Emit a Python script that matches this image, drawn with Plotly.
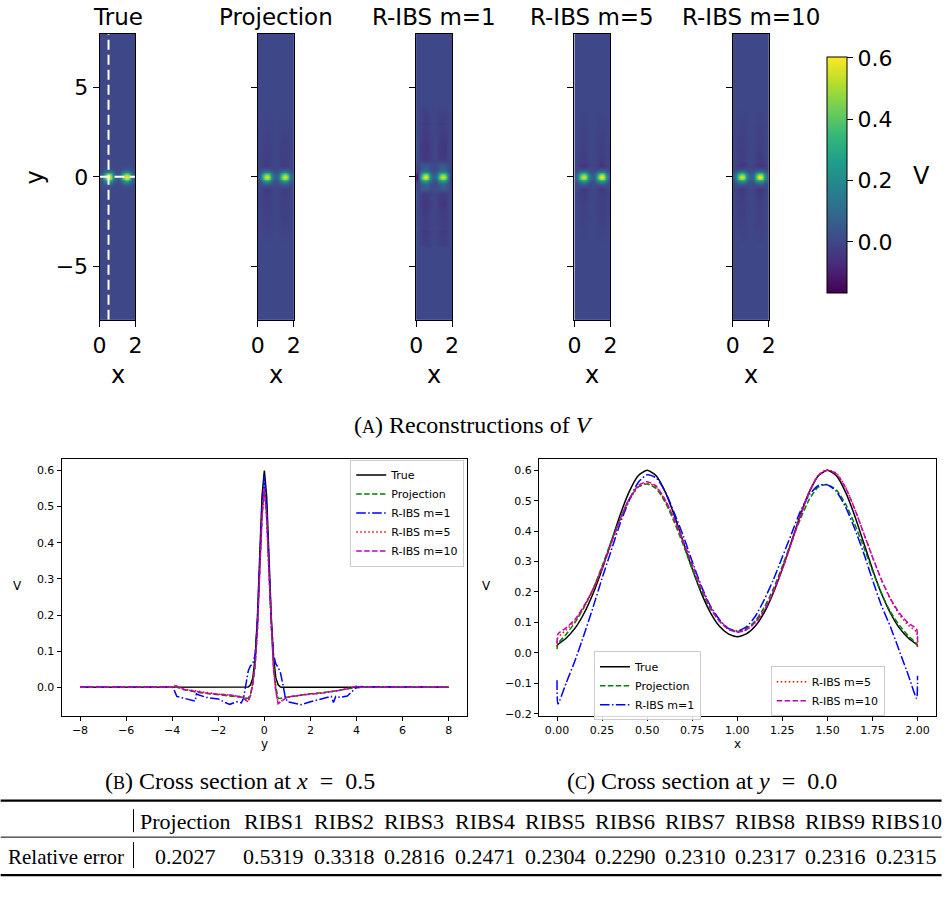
import numpy as np
import plotly.graph_objects as go
from plotly.colors import sample_colorscale

W, H = 948, 903

# ---------------- data ----------------
methods = ["True", "Projection", "R-IBS m=1", "R-IBS m=5", "R-IBS m=10"]
x_cut = 0.5   # cross section position (B)
y_cut = 0.0   # cross section position (C)

# cross section at y = 0.0 (x from 0 to 2)
xs = [0.0, 0.005, 0.05, 0.1, 0.15, 0.2, 0.25, 0.3, 0.35, 0.4, 0.45, 0.5, 0.55, 0.6, 0.65,
      0.7, 0.75, 0.8, 0.85, 0.9, 0.95, 1.0, 1.05, 1.1, 1.15, 1.2, 1.25, 1.3, 1.35, 1.4,
      1.45, 1.5, 1.55, 1.6, 1.65, 1.7, 1.75, 1.8, 1.85, 1.9, 1.95, 1.995, 2.0]
cx_true = [0.026, 0.028, 0.048, 0.081, 0.130, 0.195, 0.275, 0.364, 0.453, 0.529, 0.582, 0.600,
           0.582, 0.529, 0.453, 0.364, 0.276, 0.197, 0.133, 0.088, 0.062, 0.053, 0.062, 0.088,
           0.133, 0.197, 0.276, 0.364, 0.453, 0.529, 0.582, 0.600, 0.582, 0.529, 0.453, 0.364,
           0.275, 0.195, 0.130, 0.081, 0.048, 0.028, 0.026]
cx_proj = [0.012, 0.03, 0.06, 0.10, 0.15, 0.21, 0.285, 0.365, 0.44, 0.505, 0.545, 0.555,
           0.54, 0.495, 0.43, 0.355, 0.275, 0.205, 0.145, 0.105, 0.08, 0.07, 0.08, 0.105,
           0.15, 0.21, 0.285, 0.365, 0.44, 0.505, 0.545, 0.553, 0.535, 0.49, 0.425, 0.35,
           0.27, 0.195, 0.135, 0.09, 0.055, 0.03, 0.02]
cx_m1 = [-0.09, -0.168, -0.10, -0.025, 0.06, 0.15, 0.245, 0.335, 0.425, 0.50, 0.56, 0.585,
         0.575, 0.53, 0.46, 0.385, 0.30, 0.22, 0.155, 0.11, 0.08, 0.072, 0.085, 0.12,
         0.175, 0.24, 0.315, 0.39, 0.465, 0.52, 0.55, 0.552, 0.53, 0.48, 0.41, 0.33,
         0.24, 0.155, 0.085, 0.005, -0.075, -0.15, -0.075]
cx_m5 = [0.02, 0.05, 0.075, 0.105, 0.15, 0.205, 0.275, 0.355, 0.435, 0.50, 0.545, 0.558,
         0.545, 0.50, 0.44, 0.365, 0.29, 0.215, 0.15, 0.105, 0.078, 0.068, 0.075, 0.10,
         0.14, 0.20, 0.275, 0.36, 0.45, 0.53, 0.585, 0.602, 0.59, 0.545, 0.475, 0.395,
         0.315, 0.24, 0.175, 0.125, 0.09, 0.068, 0.02]
cx_m10 = [0.03, 0.062, 0.082, 0.11, 0.155, 0.21, 0.28, 0.36, 0.44, 0.505, 0.55, 0.562,
          0.548, 0.503, 0.44, 0.367, 0.29, 0.215, 0.15, 0.105, 0.078, 0.068, 0.076, 0.10,
          0.14, 0.20, 0.276, 0.36, 0.45, 0.53, 0.583, 0.60, 0.588, 0.543, 0.475, 0.395,
          0.315, 0.24, 0.178, 0.13, 0.097, 0.078, 0.03]

# cross section at x = 0.5 (y from -8 to 8)
ys = [-8.0, -4.2, -4.0, -3.9, -3.8, -3.5, -3.2, -3.0, -2.95, -2.9,
      -2.5, -2.0, -1.7, -1.5, -1.2, -1.0, -0.9, -0.8, -0.7, -0.6,
      -0.5, -0.4, -0.3, -0.2, -0.1, 0.0, 0.1, 0.2, 0.3, 0.4,
      0.5, 0.6, 0.7, 0.8, 0.9, 1.0, 1.3, 1.6, 2.0, 2.5,
      2.9, 3.0, 3.1, 3.3, 3.6, 3.8, 4.0, 4.2, 8.0]
cy_true = [0, 0, 0, 0, 0, 0, 0, 0, 0, 0,
           0, 0, 0, 0, 0, 0, 0, 0, 0.001, 0.007,
           0.026, 0.081, 0.195, 0.364, 0.529, 0.600, 0.529, 0.364, 0.195, 0.081,
           0.026, 0.007, 0.001, 0, 0, 0, 0, 0, 0, 0,
           0, 0, 0, 0, 0, 0, 0, 0, 0]
cy_proj = [0, 0, 0, 0.002, 0.0, -0.006, -0.01, -0.013, -0.013, -0.014,
           -0.017, -0.02, -0.022, -0.023, -0.025, -0.027, -0.028, -0.03, -0.03, -0.018,
           0.012, 0.065, 0.165, 0.33, 0.48, 0.555, 0.48, 0.33, 0.165, 0.06,
           0.0, -0.03, -0.031, -0.029, -0.028, -0.027, -0.024, -0.021, -0.018, -0.015,
           -0.012, -0.011, -0.01, -0.008, -0.004, -0.002, 0.0, 0, 0]
cy_m1 = [0, 0, 0.0, -0.01, -0.025, -0.03, -0.035, -0.038, -0.018, -0.02,
         -0.028, -0.032, -0.042, -0.047, -0.04, -0.043, -0.03, 0.01, 0.045, 0.06,
         0.065, 0.09, 0.18, 0.34, 0.5, 0.585, 0.5, 0.34, 0.18, 0.09,
         0.065, 0.055, 0.04, 0.01, -0.025, -0.04, -0.045, -0.048, -0.04, -0.032,
         -0.025, -0.042, -0.025, -0.028, -0.024, -0.012, 0.0, 0.002, 0]
cy_m5 = [0, 0, 0.0, 0.004, 0.003, -0.005, -0.008, -0.01, -0.011, -0.012,
         -0.016, -0.019, -0.02, -0.021, -0.024, -0.026, -0.028, -0.035, -0.038, -0.022,
         0.01, 0.06, 0.16, 0.32, 0.47, 0.55, 0.47, 0.32, 0.16, 0.05,
         -0.01, -0.044, -0.04, -0.035, -0.03, -0.028, -0.024, -0.021, -0.018, -0.016,
         -0.012, -0.011, -0.01, -0.008, -0.004, -0.001, 0.003, 0.0, 0]
cy_m10 = [0, 0, 0.0, 0.005, 0.003, -0.006, -0.009, -0.011, -0.012, -0.013,
          -0.016, -0.019, -0.02, -0.021, -0.024, -0.027, -0.03, -0.036, -0.04, -0.023,
          0.01, 0.06, 0.16, 0.32, 0.47, 0.552, 0.47, 0.32, 0.16, 0.05,
          -0.012, -0.045, -0.04, -0.035, -0.03, -0.027, -0.024, -0.021, -0.019, -0.016,
          -0.013, -0.011, -0.01, -0.008, -0.004, -0.001, 0.003, 0.0, 0]

# table
table_cols = ["Projection", "RIBS1", "RIBS2", "RIBS3", "RIBS4", "RIBS5", "RIBS6",
              "RIBS7", "RIBS8", "RIBS9", "RIBS10"]
rel_error = [0.2027, 0.5319, 0.3318, 0.2816, 0.2471, 0.2304, 0.2290, 0.2310, 0.2317,
             0.2316, 0.2315]

cx_all = [cx_true, cx_proj, cx_m1, cx_m5, cx_m10]
cy_all = [cy_true, cy_proj, cy_m1, cy_m5, cy_m10]

# ---------------- styles ----------------
colors = ["black", "#008000", "#0000ff", "#ff0000", "#bf00bf"]
dashes = ["solid", "5.5px,2.4px", "9.6px,2.4px,1.5px,2.4px", "1.5px,2.5px", "5.5px,2.4px"]


def X(px):
    # pixel position in the page -> paper fraction (compensates page scaling)
    return ((px - 6.35) / 0.9864) / W


def Y(py):
    return 1 - (py / 0.9966) / H


fig = go.Figure()
layout = dict(width=W, height=H, margin=dict(l=0, r=0, t=0, b=0), autosize=False,
              paper_bgcolor="white", plot_bgcolor="white",
              font=dict(family="DejaVu Sans", color="black"),
              annotations=[], shapes=[])

# ---------------- heatmaps ----------------
i0 = ys.index(0.0)
fields = []
for cx, cy in zip(cx_all, cy_all):
    Z = np.outer(np.array(cy), np.array(cx)) / cy[i0]
    fields.append(Z)
zmin = float(min(f.min() for f in fields))
zmax = float(max(f.max() for f in fields))
zero_col = sample_colorscale("Viridis", [(0 - zmin) / (zmax - zmin)])[0]

# pad the grid slightly beyond the axes so the image fills the frame
hx = np.concatenate([[-0.05], np.array(xs), [2.05]])
hy = np.concatenate([[-8.5], np.array(ys), [8.5]])

heat_left = [99 + 158.5 * i for i in range(5)]
hw = 36
for i, (name, Z) in enumerate(zip(methods, fields)):
    ax = "" if i == 0 else str(i + 1)
    l = heat_left[i]
    Zp = np.pad(Z, ((1, 1), (1, 1)), mode="edge")
    fig.add_trace(go.Heatmap(x=hx, y=hy, z=Zp.tolist(), coloraxis="coloraxis",
                             zsmooth="best", xaxis="x" + ax, yaxis="y" + ax,
                             hoverinfo="skip", showlegend=False))
    layout["shapes"].append(dict(type="rect", xref="x" + ax, yref="y" + ax, x0=0, x1=2,
                                 y0=-8, y1=8, fillcolor=zero_col, line=dict(width=0),
                                 layer="below"))
    layout["xaxis" + ax] = dict(domain=[X(l), X(l + hw)], range=[0, 2], anchor="y" + ax,
                                tickvals=[0, 2], ticks="outside", ticklen=6, tickwidth=1,
                                tickcolor="black", showline=True, linecolor="black",
                                linewidth=1, mirror=True, showgrid=False, zeroline=False,
                                tickfont=dict(size=22, color="black"))
    layout["yaxis" + ax] = dict(domain=[Y(320), Y(34)], range=[-8, 8], anchor="x" + ax,
                                tickvals=[-5, 0, 5], ticks="outside", ticklen=6, tickwidth=1,
                                tickcolor="black", showline=True, linecolor="black",
                                linewidth=1, mirror=True, showgrid=False, zeroline=False,
                                showticklabels=(i == 0),
                                tickfont=dict(size=22, color="black"))
    layout["annotations"].append(dict(x=X(l + hw / 2), y=Y(17), text=name, showarrow=False,
                                      xref="paper", yref="paper", xanchor="center",
                                      yanchor="middle", font=dict(size=23)))
    layout["annotations"].append(dict(x=X(l + hw / 2), y=Y(375), text="x", showarrow=False,
                                      xref="paper", yref="paper", xanchor="center",
                                      yanchor="middle", font=dict(size=24)))

# dashed cross-section markers on the "True" panel
fig.add_trace(go.Scatter(x=[x_cut, x_cut], y=[-8, 8], mode="lines", xaxis="x", yaxis="y",
                         line=dict(color="white", width=2, dash="10px,5px"),
                         showlegend=False, hoverinfo="skip"))
fig.add_trace(go.Scatter(x=[0, 2], y=[y_cut, y_cut], mode="lines", xaxis="x", yaxis="y",
                         line=dict(color="white", width=2, dash="10px,5px"),
                         showlegend=False, hoverinfo="skip"))

layout["annotations"].append(dict(x=X(34), y=Y(178), text="y", textangle=-90,
                                  showarrow=False, xref="paper", yref="paper",
                                  xanchor="center", yanchor="middle", font=dict(size=24)))
layout["annotations"].append(dict(x=X(922), y=Y(176), text="V", showarrow=False,
                                  xref="paper", yref="paper", xanchor="center",
                                  yanchor="middle", font=dict(size=24)))

layout["coloraxis"] = dict(colorscale="Viridis", cmin=zmin, cmax=zmax,
                           colorbar=dict(x=X(827), xanchor="left", xpad=0, ypad=0,
                                         y=Y(175.5), yanchor="middle", len=237 / H,
                                         lenmode="fraction", thickness=20,
                                         thicknessmode="pixels", outlinewidth=1,
                                         outlinecolor="black", ticks="outside", ticklen=6,
                                         tickcolor="black", tickvals=[0, 0.2, 0.4, 0.6],
                                         tickformat=".1f",
                                         tickfont=dict(size=22, color="black")))

# ---------------- line plots ----------------
for k in range(5):
    fig.add_trace(go.Scatter(x=ys, y=cy_all[k], mode="lines", name=methods[k],
                             xaxis="x6", yaxis="y6", legend="legend3",
                             line=dict(color=colors[k], width=1.5, dash=dashes[k])))
for k in range(5):
    fig.add_trace(go.Scatter(x=xs, y=cx_all[k], mode="lines", name=methods[k],
                             xaxis="x7", yaxis="y7",
                             legend=("legend" if k < 3 else "legend2"),
                             line=dict(color=colors[k], width=1.5, dash=dashes[k],
                                       shape="spline", smoothing=0.6)))

common_ax = dict(ticks="outside", ticklen=4, tickwidth=1, tickcolor="black", showline=True,
                 linecolor="black", linewidth=1, mirror=True, showgrid=False, zeroline=False,
                 tickfont=dict(size=11, color="black"))
layout["xaxis6"] = dict(domain=[X(61), X(467)], anchor="y6", range=[-8.8, 8.8],
                        tickvals=list(range(-8, 9, 2)), **common_ax)
layout["yaxis6"] = dict(domain=[Y(717), Y(459)], anchor="x6", range=[-0.08, 0.633],
                        tickvals=[0, 0.1, 0.2, 0.3, 0.4, 0.5, 0.6], tickformat=".1f",
                        **common_ax)
layout["xaxis7"] = dict(domain=[X(539), X(936)], anchor="y7", range=[-0.1, 2.1],
                        tickvals=[0, 0.25, 0.5, 0.75, 1.0, 1.25, 1.5, 1.75, 2.0],
                        tickformat=".2f", **common_ax)
layout["yaxis7"] = dict(domain=[Y(717), Y(459)], anchor="x7", range=[-0.2085, 0.6385],
                        tickvals=[-0.2, -0.1, 0, 0.1, 0.2, 0.3, 0.4, 0.5, 0.6],
                        tickformat=".1f", **common_ax)

leg_common = dict(bgcolor="rgba(255,255,255,0.85)", bordercolor="#cccccc", borderwidth=1,
                  font=dict(size=11, color="black"), xanchor="left", yanchor="top",
                  tracegroupgap=0, xref="paper", yref="paper")
layout["legend3"] = dict(x=X(350), y=Y(460), **leg_common)
layout["legend"] = dict(x=X(594), y=Y(652), **leg_common)
layout["legend2"] = dict(x=X(771), y=Y(667), **leg_common)

for txt, px, py in [("V", 17, 587), ("V", 486, 587), ("y", 264, 745), ("x", 738, 745)]:
    layout["annotations"].append(dict(x=X(px), y=Y(py), text=txt, showarrow=False,
                                      xref="paper", yref="paper", xanchor="center",
                                      yanchor="middle", font=dict(size=12)))

# ---------------- captions ----------------
serif = "Liberation Serif"
sc = "<span style='font-size:18px'>%s</span>"
captions = [("(" + sc % "A" + ") Reconstructions of <i>V</i>", 473, 425),
            ("(" + sc % "B" + ") Cross section at <i>x</i>&nbsp; = &nbsp;0.5", 240, 782),
            ("(" + sc % "C" + ") Cross section at <i>y</i>&nbsp; = &nbsp;0.0", 702, 782)]
for txt, px, py in captions:
    layout["annotations"].append(dict(x=X(px), y=Y(py), text=txt, showarrow=False,
                                      xref="paper", yref="paper", xanchor="center",
                                      yanchor="middle",
                                      font=dict(size=24, family=serif, color="black")))

# ---------------- table ----------------
col_centers = [185, 273.5, 344, 414, 485, 555.5, 625.5, 695.5, 765.5, 835.5, 906.5]
row_head, row_data = 822, 857.5
for name, val, cxp in zip(table_cols, rel_error, col_centers):
    layout["annotations"].append(dict(x=X(cxp), y=Y(row_head), text=name, showarrow=False,
                                      xref="paper", yref="paper", xanchor="center",
                                      yanchor="middle",
                                      font=dict(size=22, family=serif, color="black")))
    layout["annotations"].append(dict(x=X(cxp), y=Y(row_data), text="%.4f" % val,
                                      showarrow=False, xref="paper", yref="paper",
                                      xanchor="center", yanchor="middle",
                                      font=dict(size=22, family=serif, color="black")))
layout["annotations"].append(dict(x=X(65), y=Y(row_data), text="Relative error",
                                  showarrow=False, xref="paper", yref="paper",
                                  xanchor="center", yanchor="middle",
                                  font=dict(size=21, family=serif, color="black")))

for py, lw in [(801.5, 2.2), (838, 1), (876, 2.2)]:
    layout["shapes"].append(dict(type="line", xref="paper", yref="paper", x0=X(0), x1=X(942),
                                 y0=Y(py), y1=Y(py), line=dict(color="black", width=lw)))
for y0, y1 in [(810, 833), (843, 869)]:
    layout["shapes"].append(dict(type="line", xref="paper", yref="paper", x0=X(133),
                                 x1=X(133), y0=Y(y0), y1=Y(y1),
                                 line=dict(color="black", width=1)))

fig.update_layout(**layout)
fig.write_html("out.html")
